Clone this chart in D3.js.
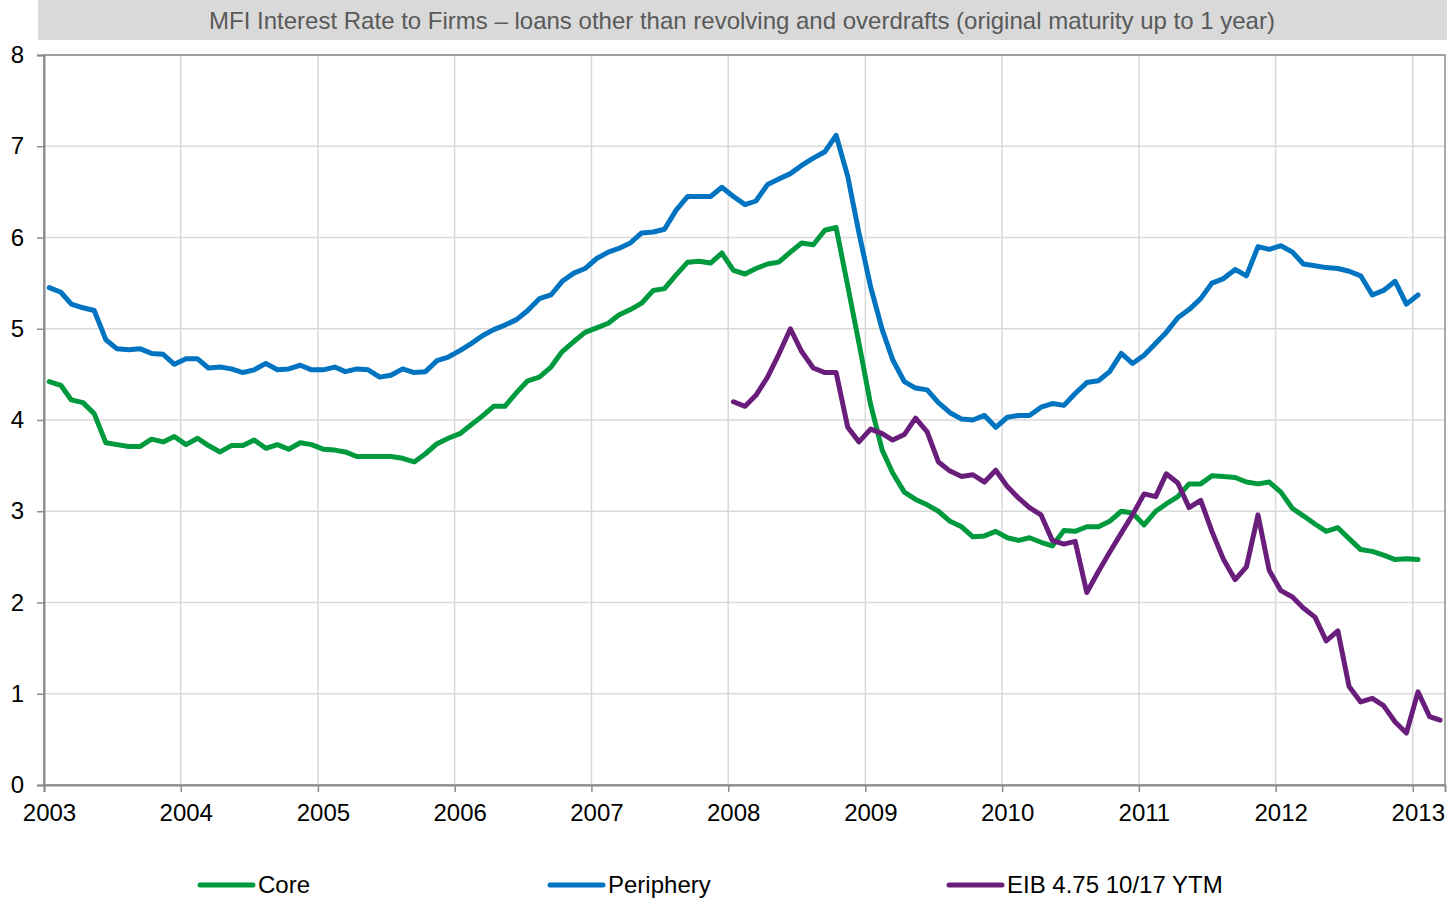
<!DOCTYPE html>
<html lang="en">
    <head>
        <meta charset="utf-8">
        <style>
        body { margin: 0; background: #fff; }
        text { font-family: "Liberation Sans", Arial, sans-serif; }
        </style>
        <script src="https://d3js.org/d3.v7.min.js"></script>
    </head>
    <body>
    <script>
    var width = 1447,
        height = 902;

    // monthly series, first value is the month given in *Start (year, month index)
    var coreStart = [2003, 0];
    var core = [4.42, 4.38, 4.22, 4.19, 4.07, 3.75, 3.73, 3.71, 3.71, 3.79, 3.76, 3.82,
        3.73, 3.80, 3.72, 3.65, 3.72, 3.72, 3.78, 3.69, 3.73, 3.68, 3.75, 3.73,
        3.68, 3.67, 3.65, 3.60, 3.60, 3.60, 3.60, 3.58, 3.54, 3.63, 3.74, 3.80,
        3.85, 3.95, 4.04, 4.15, 4.15, 4.30, 4.43, 4.47, 4.58, 4.75, 4.86, 4.96,
        5.01, 5.06, 5.15, 5.21, 5.28, 5.42, 5.44, 5.59, 5.73, 5.74, 5.72, 5.83,
        5.64, 5.60, 5.66, 5.71, 5.73, 5.84, 5.94, 5.92, 6.08, 6.11, 5.47, 4.84,
        4.17, 3.67, 3.42, 3.21, 3.13, 3.07, 3.00, 2.89, 2.83, 2.72, 2.73, 2.78,
        2.71, 2.68, 2.71, 2.66, 2.62, 2.79, 2.78, 2.83, 2.83, 2.89, 3.00, 2.98,
        2.85, 3.00, 3.08, 3.16, 3.30, 3.30, 3.39, 3.38, 3.37, 3.32, 3.30, 3.32,
        3.21, 3.03, 2.95, 2.86, 2.78, 2.82, 2.70, 2.58, 2.56, 2.52, 2.47, 2.48,
        2.47];

    var peripheryStart = [2003, 0];
    var periphery = [5.45, 5.40, 5.27, 5.23, 5.20, 4.88, 4.78, 4.77, 4.78, 4.73, 4.72, 4.61,
        4.67, 4.67, 4.57, 4.58, 4.56, 4.52, 4.55, 4.62, 4.55, 4.56, 4.60, 4.55,
        4.55, 4.58, 4.53, 4.56, 4.55, 4.47, 4.49, 4.56, 4.52, 4.53, 4.65, 4.69,
        4.76, 4.84, 4.92, 4.99, 5.04, 5.10, 5.20, 5.33, 5.37, 5.52, 5.61, 5.66,
        5.77, 5.84, 5.88, 5.94, 6.05, 6.06, 6.09, 6.30, 6.45, 6.45, 6.45, 6.55,
        6.45, 6.36, 6.40, 6.58, 6.64, 6.70, 6.79, 6.87, 6.94, 7.12, 6.67, 6.05,
        5.46, 4.99, 4.66, 4.42, 4.35, 4.33, 4.19, 4.08, 4.01, 4.00, 4.05, 3.92,
        4.03, 4.05, 4.05, 4.14, 4.18, 4.16, 4.29, 4.41, 4.43, 4.53, 4.73, 4.62,
        4.71, 4.84, 4.96, 5.12, 5.21, 5.33, 5.50, 5.55, 5.65, 5.58, 5.90, 5.87,
        5.91, 5.84, 5.71, 5.69, 5.67, 5.66, 5.63, 5.58, 5.37, 5.42, 5.52, 5.27,
        5.37];

    var eibStart = [2008, 0];
    var eib = [4.20, 4.15, 4.27, 4.47, 4.72, 5.00, 4.75, 4.57, 4.52, 4.52, 3.92, 3.76,
        3.90, 3.85, 3.78, 3.84, 4.02, 3.87, 3.54, 3.44, 3.38, 3.40, 3.32, 3.45,
        3.27, 3.14, 3.04, 2.96, 2.68, 2.64, 2.67, 2.11, 2.34, 2.55, 2.76, 2.96,
        3.19, 3.16, 3.41, 3.31, 3.04, 3.12, 2.78, 2.47, 2.25, 2.39, 2.96, 2.35,
        2.13, 2.06, 1.94, 1.84, 1.58, 1.69, 1.08, 0.91, 0.95, 0.87, 0.69, 0.57,
        1.02, 0.75, 0.71];

    var seriesNames = ["Core", "Periphery", "EIB 4.75 10/17 YTM"];
    var seriesColors = ["#009a3e", "#0074c1", "#6a1e7c"];
    var yTicks = [0, 1, 2, 3, 4, 5, 6, 7, 8];
    var yearTicks = [2003, 2004, 2005, 2006, 2007, 2008, 2009, 2010, 2011, 2012, 2013];
    var title = "MFI Interest Rate to Firms \u2013 loans other than revolving and overdrafts (original maturity up to 1 year)";

    function toPoints(start, values) {
        return values.map(function(v, i) {
            return { date: new Date(start[0], start[1] + i, 15), value: v };
        });
    }

    var series = [toPoints(coreStart, core), toPoints(peripheryStart, periphery), toPoints(eibStart, eib)];

    var svg = d3.select("body").append("svg")
        .attr("width", width)
        .attr("height", height);

    var x = d3.scaleTime()
        .domain([new Date(2003, 0, 1), new Date(2013, 2, 28)])
        .range([44, 1445]);

    var y = d3.scaleLinear()
        .domain([0, 8])
        .range([785, 55]);

    // title bar
    svg.append("rect")
        .attr("x", 38)
        .attr("y", 0)
        .attr("width", width - 38)
        .attr("height", 40)
        .attr("fill", "#d9d9d9");

    svg.append("text")
        .attr("x", 742)
        .attr("y", 29)
        .attr("text-anchor", "middle")
        .attr("fill", "#595959")
        .style("font-size", "24px")
        .text(title);

    // gridlines
    svg.append("g")
        .selectAll("line")
        .data(yTicks)
        .enter().append("line")
        .attr("x1", x.range()[0])
        .attr("x2", x.range()[1])
        .attr("y1", function(d) { return y(d); })
        .attr("y2", function(d) { return y(d); })
        .attr("stroke", "#d9d9d9")
        .attr("stroke-width", 1.5);

    svg.append("g")
        .selectAll("line")
        .data(yearTicks)
        .enter().append("line")
        .attr("x1", function(d) { return x(new Date(d, 0, 1)); })
        .attr("x2", function(d) { return x(new Date(d, 0, 1)); })
        .attr("y1", y(0))
        .attr("y2", y(8))
        .attr("stroke", "#d9d9d9")
        .attr("stroke-width", 1.5);

    // frame
    svg.append("rect")
        .attr("x", x.range()[0])
        .attr("y", y(8))
        .attr("width", x.range()[1] - x.range()[0])
        .attr("height", y(0) - y(8))
        .attr("fill", "none")
        .attr("stroke", "#8c8c8c")
        .attr("stroke-width", 1.5);

    // axes
    var xAxis = svg.append("g")
        .attr("transform", "translate(0," + y(0) + ")")
        .call(d3.axisBottom(x)
            .tickValues(yearTicks.map(function(d) { return new Date(d, 0, 1); }))
            .tickFormat(d3.timeFormat("%Y"))
            .tickSize(7)
            .tickPadding(12));
    xAxis.select(".domain").attr("stroke", "#8c8c8c").attr("stroke-width", 2);
    xAxis.selectAll(".tick line").attr("stroke", "#8c8c8c").attr("stroke-width", 1.5);
    xAxis.selectAll(".tick text")
        .attr("dx", 5)
        .attr("fill", "#000")
        .style("font-family", "Liberation Sans, Arial, sans-serif")
        .style("font-size", "24px");

    var yAxis = svg.append("g")
        .attr("transform", "translate(" + x.range()[0] + ",0)")
        .call(d3.axisLeft(y)
            .tickValues(yTicks)
            .tickSize(7)
            .tickPadding(13));
    yAxis.select(".domain").attr("stroke", "#8c8c8c").attr("stroke-width", 2);
    yAxis.selectAll(".tick line").attr("stroke", "#8c8c8c").attr("stroke-width", 1.5);
    yAxis.selectAll(".tick text")
        .attr("fill", "#000")
        .style("font-family", "Liberation Sans, Arial, sans-serif")
        .style("font-size", "24px");

    // lines
    var line = d3.line()
        .x(function(d) { return x(d.date); })
        .y(function(d) { return y(d.value); });

    svg.append("g")
        .selectAll("path")
        .data(series)
        .enter().append("path")
        .attr("d", line)
        .attr("fill", "none")
        .attr("stroke", function(d, i) { return seriesColors[i]; })
        .attr("stroke-width", 5)
        .attr("stroke-linejoin", "round")
        .attr("stroke-linecap", "round");

    // legend
    var legendX = [200, 550, 949];
    var legend = svg.append("g")
        .selectAll("g")
        .data(seriesNames)
        .enter().append("g")
        .attr("transform", function(d, i) { return "translate(" + legendX[i] + ",885)"; });

    legend.append("line")
        .attr("x1", 0)
        .attr("x2", 53)
        .attr("stroke", function(d, i) { return seriesColors[i]; })
        .attr("stroke-width", 5)
        .attr("stroke-linecap", "round");

    legend.append("text")
        .attr("x", 58)
        .attr("y", 8)
        .style("font-size", "24px")
        .attr("fill", "#000")
        .text(function(d) { return d; });
    </script>
    </body>
</html>
